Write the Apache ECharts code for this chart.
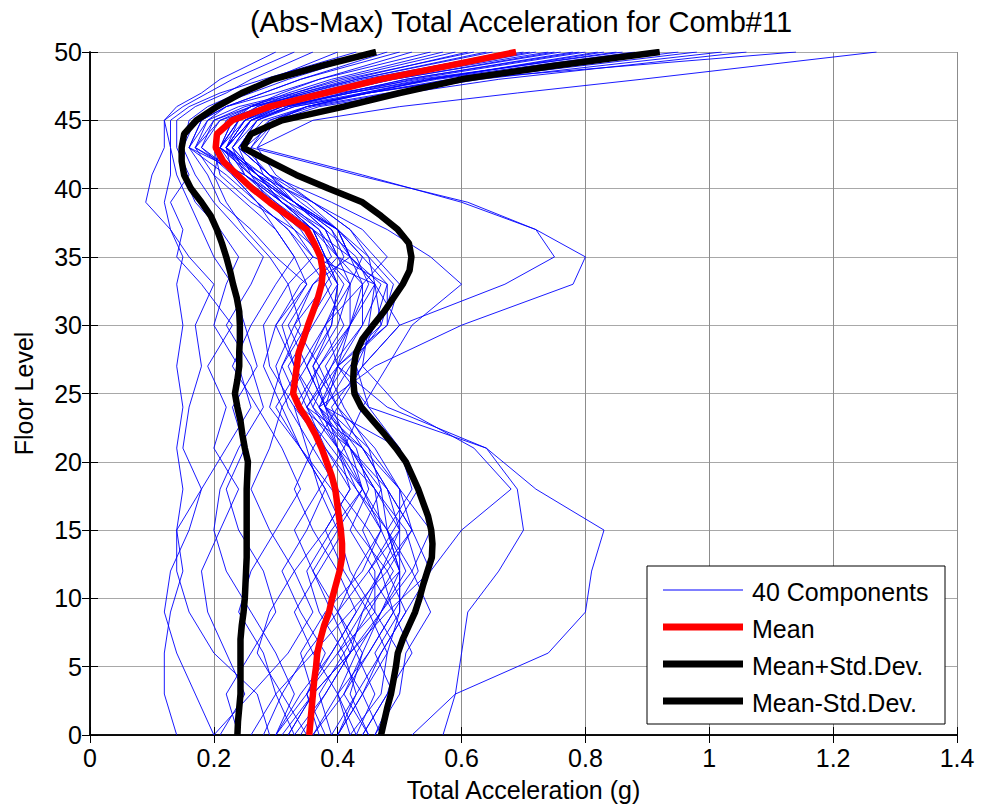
<!DOCTYPE html>
<html><head><meta charset="utf-8">
<script src="https://cdn.jsdelivr.net/npm/echarts@6/dist/echarts.min.js"></script>
<style>html,body{margin:0;padding:0;background:#fff}#c{width:981px;height:807px}</style>
</head><body><div id="c"></div>
<script>
const chartTitle = '(Abs-Max) Total Acceleration for Comb#11';
const xAxisName = 'Total Acceleration (g)';
const yAxisName = 'Floor Level';
const legendLabels = ['40 Components', 'Mean', 'Mean+Std.Dev.', 'Mean-Std.Dev.'];
const xTicks = [0, 0.2, 0.4, 0.6, 0.8, 1, 1.2, 1.4];
const yTicks = [0, 5, 10, 15, 20, 25, 30, 35, 40, 45, 50];

// floors at which the 40 component curves were read
const compFloors = [0,3,6,9,12,15,18,21,24,27,30,33,35,37,39,41,43,45,46,47,48,50];
const c01 = [.14,.12,.12,.13,.15,.14,.15,.14,.15,.14,.15,.14,.15,.13,.09,.10,.12,.12,.14,.18,.21,.30];
const c02 = [.20,.17,.14,.12,.13,.16,.18,.15,.16,.18,.17,.20,.16,.13,.12,.13,.13,.12,.15,.19,.23,.33];
const c03 = [.21,.25,.22,.19,.18,.21,.24,.20,.22,.19,.23,.18,.14,.15,.13,.16,.14,.14,.17,.22,.26,.36];
const c04 = [.29,.27,.20,.16,.14,.14,.18,.22,.26,.24,.20,.22,.24,.21,.17,.15,.15,.16,.19,.24,.29,.40];
const c05 = [.24,.22,.26,.30,.28,.24,.22,.25,.23,.27,.25,.23,.20,.18,.16,.14,.13,.13,.16,.21,.28,.43];
const c06 = [.30,.33,.30,.26,.22,.20,.21,.24,.28,.26,.22,.26,.28,.24,.20,.17,.15,.17,.20,.26,.32,.46];
const c07 = [.33,.30,.28,.24,.26,.30,.34,.31,.27,.23,.26,.30,.33,.30,.25,.20,.17,.19,.22,.28,.34,.48];
const c08 = [.20,.26,.32,.36,.33,.29,.26,.29,.31,.28,.30,.35,.30,.26,.21,.19,.16,.18,.22,.28,.34,.50];
const c09 = [.37,.35,.38,.34,.31,.35,.38,.34,.29,.31,.34,.32,.29,.25,.22,.20,.21,.23,.26,.31,.37,.52];
const c10 = [.35,.31,.27,.29,.33,.38,.42,.38,.33,.29,.28,.32,.36,.32,.27,.22,.16,.18,.22,.30,.37,.55];
const c11 = [.42,.40,.36,.33,.37,.41,.38,.34,.31,.35,.38,.41,.38,.33,.26,.21,.20,.22,.26,.32,.39,.57];
const c12 = [.30,.34,.39,.43,.40,.36,.33,.36,.40,.37,.33,.36,.40,.36,.30,.24,.21,.23,.27,.33,.40,.59];
const c13 = [.45,.42,.44,.40,.36,.33,.37,.41,.37,.33,.31,.35,.33,.30,.27,.23,.22,.24,.28,.34,.42,.61];
const c14 = [.32,.36,.34,.38,.44,.47,.43,.38,.35,.39,.42,.45,.43,.38,.31,.25,.16,.19,.24,.33,.41,.62];
const c15 = [.39,.37,.41,.45,.49,.45,.40,.36,.32,.30,.33,.38,.41,.39,.33,.27,.21,.24,.27,.35,.43,.64];
const c16 = [.40,.43,.41,.37,.35,.39,.44,.40,.35,.32,.36,.40,.37,.34,.29,.24,.17,.20,.25,.34,.43,.65];
const c17 = [.28,.31,.35,.40,.45,.50,.46,.42,.38,.36,.39,.40,.38,.36,.31,.26,.22,.25,.29,.36,.45,.67];
const c18 = [.44,.48,.50,.46,.42,.40,.37,.35,.33,.37,.41,.38,.35,.32,.27,.23,.18,.21,.26,.35,.44,.68];
const c19 = [.40,.44,.47,.51,.48,.43,.39,.34,.30,.34,.38,.42,.44,.40,.33,.26,.21,.24,.28,.37,.46,.70];
const c20 = [.43,.40,.43,.40,.43,.47,.44,.39,.34,.31,.35,.39,.37,.35,.30,.25,.23,.26,.30,.38,.47,.71];
const c21 = [.36,.40,.45,.49,.53,.51,.46,.40,.36,.33,.30,.34,.39,.37,.31,.25,.22,.25,.30,.38,.47,.72];
const c22 = [.33,.38,.42,.44,.47,.52,.48,.42,.37,.40,.44,.47,.42,.36,.29,.24,.18,.20,.26,.36,.47,.74];
const c23 = [.38,.35,.39,.43,.47,.44,.47,.45,.41,.38,.42,.44,.42,.40,.33,.27,.22,.25,.30,.39,.49,.75];
const c24 = [.30,.35,.40,.46,.46,.42,.45,.43,.38,.35,.32,.36,.42,.40,.33,.26,.21,.24,.29,.39,.49,.76];
const c25 = [.26,.30,.36,.42,.48,.52,.50,.46,.40,.36,.40,.42,.40,.38,.33,.29,.24,.27,.32,.41,.51,.78];
const c26 = [.31,.36,.42,.47,.52,.48,.43,.40,.38,.35,.39,.40,.38,.36,.31,.27,.23,.26,.31,.41,.51,.79];
const c27 = [.43,.46,.43,.47,.51,.48,.44,.41,.44,.48,.52,.60,.55,.48,.39,.29,.24,.27,.32,.42,.52,.80];
const c28 = [.34,.38,.42,.39,.36,.40,.44,.42,.39,.44,.50,.67,.75,.72,.60,.44,.27,.30,.35,.45,.55,.82];
const c29 = [.40,.44,.48,.45,.41,.38,.42,.40,.37,.46,.60,.78,.80,.72,.61,.43,.26,.29,.35,.44,.55,.83];
const c30 = [.52,.59,.74,.80,.81,.83,.72,.64,.48,.40,.38,.44,.48,.44,.36,.27,.22,.26,.31,.42,.54,.85];
const c31 = [.57,.59,.60,.61,.66,.70,.69,.64,.45,.40,.42,.46,.45,.40,.32,.25,.17,.21,.28,.40,.53,.86];
const c32 = [.46,.49,.46,.50,.50,.50,.50,.45,.38,.42,.47,.46,.42,.40,.35,.28,.21,.25,.31,.42,.55,.88];
const c33 = [.36,.41,.44,.47,.50,.48,.47,.42,.36,.39,.44,.44,.40,.38,.33,.28,.22,.26,.32,.44,.56,.90];
const c34 = [.46,.50,.51,.55,.52,.55,.50,.44,.37,.41,.48,.48,.40,.37,.32,.27,.23,.27,.33,.45,.58,.92];
const c35 = [.42,.47,.48,.50,.50,.47,.46,.42,.34,.37,.42,.42,.38,.36,.31,.27,.22,.26,.33,.45,.59,.95];
const c36 = [.45,.41,.45,.49,.47,.50,.48,.44,.35,.40,.47,.49,.45,.42,.36,.29,.24,.28,.35,.48,.61,.98];
const c37 = [.32,.36,.42,.48,.55,.52,.48,.44,.40,.44,.50,.46,.36,.33,.29,.26,.24,.29,.36,.49,.63,1.02];
const c38 = [.47,.44,.40,.44,.50,.48,.52,.50,.45,.43,.46,.48,.44,.40,.34,.29,.25,.30,.37,.51,.66,1.06];
const c39 = [.39,.43,.47,.51,.55,.60,.68,.62,.50,.44,.45,.46,.42,.39,.33,.28,.26,.30,.35,.45,.60,1.14];
const c40 = [.44,.48,.52,.49,.45,.49,.53,.50,.38,.40,.48,.50,.46,.42,.36,.30,.27,.36,.50,.69,.89,1.27];
const componentCurves = [c01,c02,c03,c04,c05,c06,c07,c08,c09,c10,c11,c12,c13,c14,c15,c16,c17,c18,c19,c20,
  c21,c22,c23,c24,c25,c26,c27,c28,c29,c30,c31,c32,c33,c34,c35,c36,c37,c38,c39,c40];

// statistics, read at every floor
const statFloors = [0,1,2,3,4,5,6,7,8,9,10,11,12,13,14,15,16,17,18,19,20,21,22,23,24,25,26,27,28,29,30,
  31,32,33,34,35,36,37,38,39,40,41,42,43,44,45,46,47,48,49,50];
const meanAcc = [.354,.356,.358,.36,.362,.365,.367,.372,.378,.386,
  .391,.397,.403,.407,.407,.405,.402,.399,.396,.39,
  .382,.374,.364,.352,.338,.328,.331,.334,.337,.345,
  .352,.36,.368,.374,.376,.372,.362,.35,.32,.29,
  .262,.238,.215,.203,.205,.23,.29,.38,.468,.58,.688];
const meanPlusStd = [.47,.475,.48,.486,.49,.494,.497,.505,.515,.525,
  .532,.538,.545,.552,.553,.551,.546,.538,.53,.52,
  .51,.494,.476,.457,.438,.427,.425,.426,.43,.44,
  .457,.475,.49,.505,.516,.519,.515,.497,.47,.44,
  .385,.333,.29,.247,.26,.31,.41,.50,.60,.75,.92];
const meanMinusStd = [.238,.239,.241,.243,.243,.243,.243,.243,.245,.248,
  .25,.251,.252,.253,.253,.253,.253,.253,.253,.254,
  .255,.25,.246,.243,.238,.234,.238,.241,.241,.242,
  .242,.241,.237,.231,.226,.22,.213,.205,.195,.18,
  .163,.152,.148,.148,.152,.172,.205,.245,.296,.375,.462];

const FONT = '"Liberation Sans", Arial, Helvetica, sans-serif';
const pair = (xs, ys) => xs.map((v, i) => [v, ys[i]]);

const series = [];
componentCurves.forEach((arr) => {
  series.push({
    name: legendLabels[0], type: 'line', data: pair(arr, compFloors),
    showSymbol: false, symbol: 'none', silent: true, z: 2,
    lineStyle: { color: '#0000ff', width: 0.9 }
  });
});
series.push({ name: legendLabels[1], type: 'line', data: pair(meanAcc, statFloors), symbol: 'none', z: 3,
  lineStyle: { color: '#ff0000', width: 6.5 } });
series.push({ name: legendLabels[2], type: 'line', data: pair(meanPlusStd, statFloors), symbol: 'none', z: 4,
  lineStyle: { color: '#000000', width: 6.5 } });
series.push({ name: legendLabels[3], type: 'line', data: pair(meanMinusStd, statFloors), symbol: 'none', z: 4,
  lineStyle: { color: '#000000', width: 6.5 } });

const tickFmt = v => String(Math.round(v * 10) / 10);
const grid = { left: 90, right: 24, top: 52, bottom: 71 };
const legendBox = { x: 647, y: 566, w: 298, h: 158 };
const legendRows = [590, 627, 664, 701];
const legendColors = ['#0000ff', '#ff0000', '#000000', '#000000'];
const legendWidths = [1, 7, 7, 7];

const graphics = [{
  type: 'rect', z: 100, shape: { x: legendBox.x, y: legendBox.y, width: legendBox.w, height: legendBox.h },
  style: { fill: '#fff', stroke: '#000', lineWidth: 1 }
}];
legendLabels.forEach((t, i) => {
  graphics.push({ type: 'line', z: 101, shape: { x1: 663, y1: legendRows[i], x2: 743, y2: legendRows[i] },
    style: { stroke: legendColors[i], lineWidth: legendWidths[i] } });
  graphics.push({ type: 'text', z: 101, x: 752, y: legendRows[i] + 2,
    style: { text: t, fill: '#000', font: '25px ' + FONT, textVerticalAlign: 'middle', verticalAlign: 'middle' } });
});

const chart = echarts.init(document.getElementById('c'), null, { renderer: 'svg' });
chart.setOption({
  animation: false,
  backgroundColor: '#fff',
  title: { text: chartTitle, left: 521, textAlign: 'center', top: 7, padding: 0,
    textStyle: { fontFamily: FONT, fontSize: 29, fontWeight: 'normal', color: '#000' } },
  grid: grid,
  xAxis: [{
    type: 'value', min: 0, max: 1.4, interval: 0.2, position: 'bottom',
    name: xAxisName, nameLocation: 'middle', nameGap: 42,
    nameTextStyle: { fontFamily: FONT, fontSize: 25, color: '#000' },
    axisLine: { lineStyle: { color: '#000', width: 1.5 } },
    axisTick: { inside: true, length: 8, lineStyle: { color: '#000' } },
    axisLabel: { fontFamily: FONT, fontSize: 25, color: '#000', margin: 10, formatter: tickFmt },
    splitLine: { show: true, lineStyle: { color: '#8c8c8c', width: 1 } }
  }, {
    type: 'value', min: 0, max: 1.4, interval: 0.2, position: 'top',
    axisLine: { lineStyle: { color: '#000', width: 1.5 } },
    axisTick: { inside: true, length: 8, lineStyle: { color: '#000' } },
    axisLabel: { show: false }, splitLine: { show: false }
  }],
  yAxis: [{
    type: 'value', min: 0, max: 50, interval: 5, position: 'left',
    name: yAxisName, nameLocation: 'middle', nameGap: 54, nameRotate: 90,
    nameTextStyle: { fontFamily: FONT, fontSize: 25, color: '#000' },
    axisLine: { lineStyle: { color: '#000', width: 1.5 } },
    axisTick: { inside: true, length: 8, lineStyle: { color: '#000' } },
    axisLabel: { fontFamily: FONT, fontSize: 25, color: '#000', margin: 8 },
    splitLine: { show: true, lineStyle: { color: '#a8a8a8', width: 1 } }
  }, {
    type: 'value', min: 0, max: 50, interval: 5, position: 'right',
    axisLine: { lineStyle: { color: '#000', width: 1.5 } },
    axisTick: { inside: true, length: 8, lineStyle: { color: '#000' } },
    axisLabel: { show: false }, splitLine: { show: false }
  }],
  series: series,
  graphic: graphics
});
</script></body></html>
